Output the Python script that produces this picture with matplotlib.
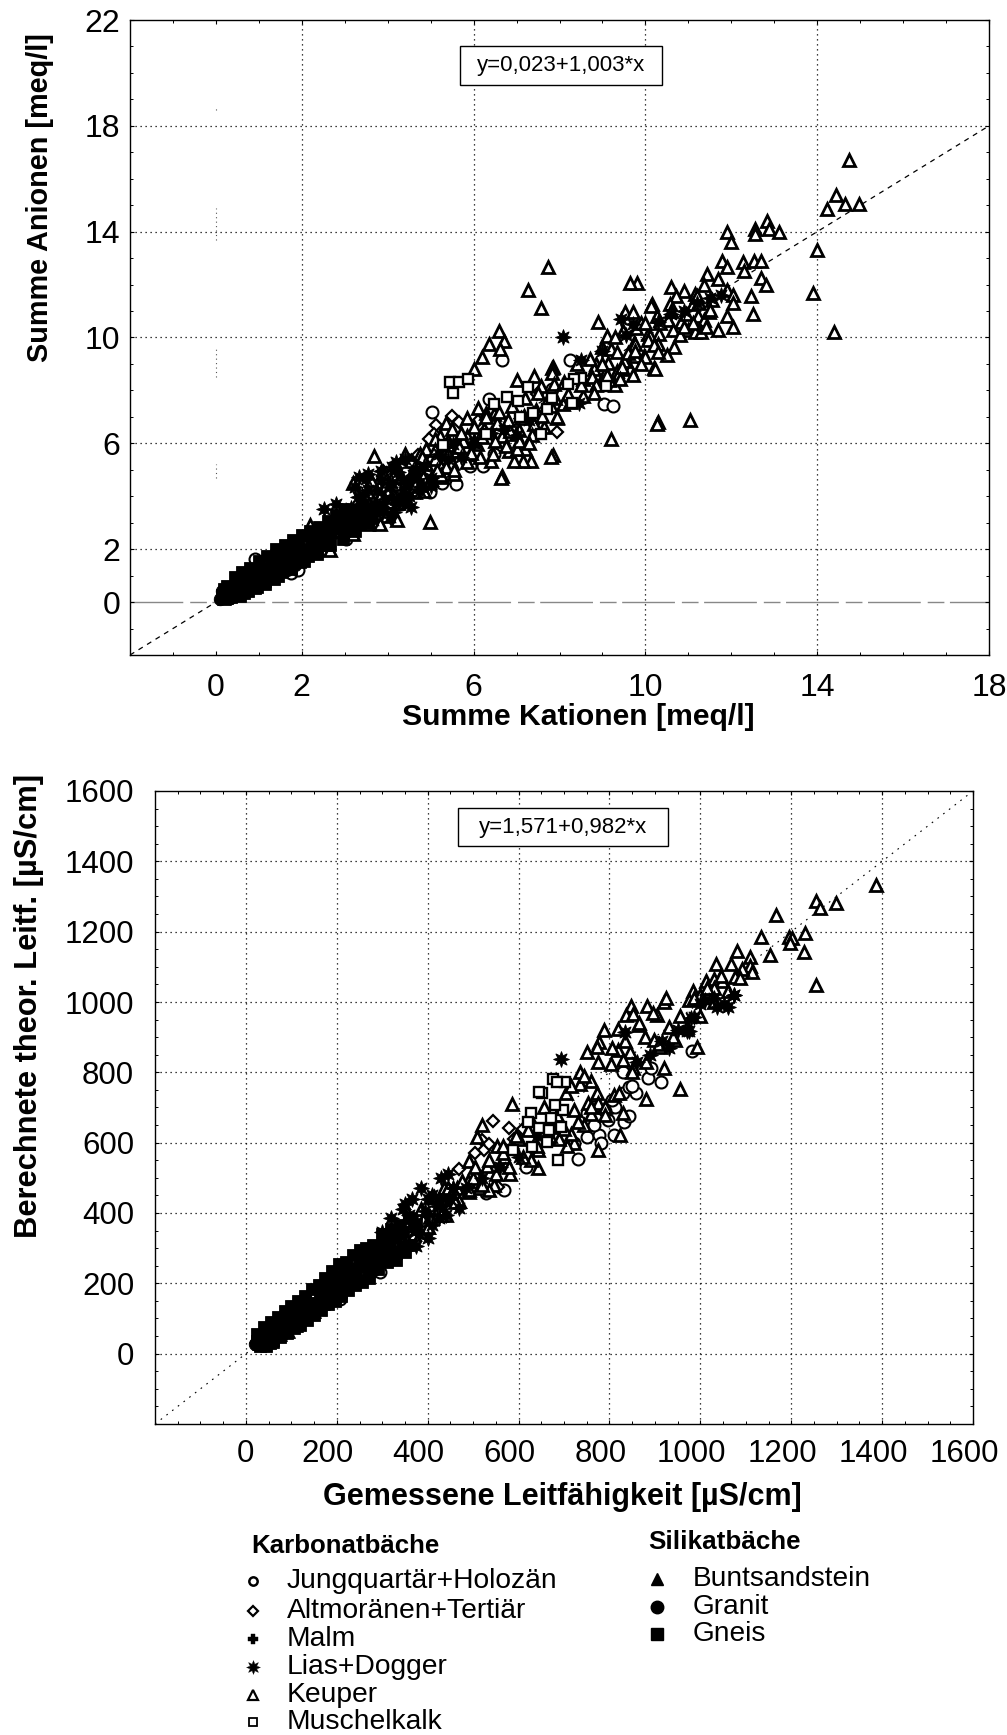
import matplotlib
matplotlib.use("Agg")
import matplotlib.pyplot as plt
from matplotlib.ticker import MultipleLocator
from matplotlib.lines import Line2D
from matplotlib.transforms import ScaledTranslation

W, H = 1007, 1735
plt.rcParams['font.family'] = ['Liberation Sans', 'DejaVu Sans']

SERIES = ["Jungquartär+Holozän", "Altmoränen+Tertiär", "Malm", "Lias+Dogger", "Keuper", "Muschelkalk"]
SILIKAT = ["Buntsandstein", "Granit", "Gneis"]
TITLE_K = "Karbonatbäche"
TITLE_S = "Silikatbäche"

# ---------- top panel: Kationen (x) / Anionen (y) ----------
top_keuper_x = [14.74,14.43,14.22,14.65,14.98,14.0,13.9,14.4,12.83,12.87,13.1,12.55,12.55,11.9,12.0,11.78,11.9,12.27,12.54,12.7,12.3,11.7,12.7,12.8,12.45,12.5,12.05,11.7,11.43,11.37,11.9,12.05,12.05,11.9,10.6,10.9,11.15,10.72,11.1,10.57,10.15,10.28,10.52,10.83,11.22,11.37,11.48,10.99,11.15,11.3,10.32,10.05,9.78,9.52,9.8,9.65,8.9,9.1,8.98,9.2,9.35,8.85,9.13,9.35,9.62,9.73,9.96,10.2,10.67,10.3,10.29,11.03,9.2,7.73,7.27,7.57,7.84,7.84,6.67,6.6,6.35,6.7,6.62,6.2,6.02,7.0,7.4,7.83,7.83,6.1,5.84,5.36,7.94,7.8,6.64,7.33,7.14,6.94,7.2,6.82,7.0,10.23,10.28,8.8,9.05,9.36,9.63,9.5,9.75,9.75,10.0,9.48,9.7,9.9,10.14,10.1,8.55,8.75,9.0,9.3,6.47,6.3,6.66,6.98,5.92,5.5,5.26,5.7,5.5,5.84,5.22,4.98,4.83,5.22,6.08,6.4,7.56,7.4,7.17,7.56,7.87,8.07,6.0,6.25,6.55,6.85,7.1,7.45,7.7,3.67,4.99,2.19,2.65,4.22,3.97,3.54,3.09,3.81,3.54,3.7,4.0,4.12,3.81,3.93,4.22,3.93,4.12,4.32,4.63,4.36,4.43,4.7,4.82,5.0,5.09,5.25,5.26,3.19,2.83,5.45,5.6,5.75,4.55,4.75,4.9,3.35,3.55,3.2,4.4,4.9,5.1,5.35,5.55,
                3.4,3.6,3.75,3.9,4.05,4.2,4.35,4.5,4.65,4.8,4.95,5.1,5.25,5.4,5.55,5.7,5.85,6.0,6.15,6.3,6.45,6.6,6.75,6.9,7.05,7.2,7.35,7.5,7.65,7.8,7.95,8.1,8.25,8.4,8.55,8.7,8.85,9.0,9.15,9.3,9.45,9.6,9.75,9.9,10.05,10.2,10.35,10.5,10.65,10.8,10.95,11.1,11.25,11.4,11.55,
                3.5,3.7,4.0,4.25,4.6,4.85,5.15,5.4,5.65,5.95,6.2,6.5,6.8,7.05,7.3,7.6,7.9,8.2,8.5,8.8,9.1,9.4,9.7,10.0,10.3,10.6,10.9,11.2,11.5]
top_keuper_y = [16.7,15.38,14.84,15.06,15.06,13.3,11.7,10.2,14.4,14.1,14.0,14.1,13.9,14.0,13.6,12.9,12.65,12.85,12.9,12.9,12.5,12.2,12.25,12.0,11.55,10.9,10.4,10.3,12.4,12.0,11.8,11.6,11.3,10.8,11.9,11.75,11.65,11.55,11.25,11.25,11.25,10.8,10.65,10.6,10.8,10.65,10.95,10.3,10.2,10.2,10.15,10.15,10.35,10.95,12.05,12.05,10.6,10.05,9.65,9.55,9.45,9.0,9.05,8.75,8.87,9.8,9.3,8.85,9.65,9.75,6.8,6.9,6.15,12.65,11.8,11.1,8.9,5.57,4.75,10.25,9.75,9.87,9.55,9.27,8.8,8.4,8.55,8.85,8.65,7.35,6.97,6.75,6.95,5.5,4.7,5.33,5.33,5.33,5.77,5.7,5.77,8.8,6.72,8.8,8.67,8.6,8.8,9.1,9.75,9.3,9.25,10.25,10.95,10.55,11.2,10.05,8.45,8.5,8.35,8.2,7.1,7.15,6.28,6.34,5.58,5.27,5.33,6.2,6.53,6.28,6.28,5.46,4.76,4.83,5.96,5.33,6.72,6.72,7.03,8.17,8.23,7.48,6.1,6.55,6.75,6.45,6.95,7.25,7.6,5.53,3.04,2.92,1.95,3.12,3.25,3.42,3.17,2.96,2.96,3.58,3.65,4.09,4.0,4.35,4.47,4.72,4.75,4.72,4.15,3.9,4.28,5.09,4.72,4.65,5.4,5.09,4.72,2.58,2.7,5.95,5.7,6.1,5.35,5.6,5.2,3.75,4.15,4.5,5.6,5.8,6.15,5.1,4.85,
                3.3,4.6,3.6,4.9,3.8,5.1,4.1,4.4,4.5,5.5,4.55,5.75,4.8,6.1,5.0,6.4,5.3,6.6,5.5,7.0,5.6,7.2,5.9,7.4,6.1,7.7,6.3,7.9,6.6,7.4,7.0,8.3,7.55,9.0,7.8,9.2,8.2,9.0,8.4,10.0,8.9,9.4,9.5,9.0,9.9,9.7,10.55,9.35,10.3,10.1,10.9,10.55,11.3,10.4,11.4,
                3.9,3.35,4.25,3.75,4.95,4.2,5.0,5.6,5.85,5.65,6.25,6.1,6.9,6.5,6.0,7.05,7.7,7.85,8.2,7.9,8.6,8.45,8.6,10.55,9.45,11.0,10.4,11.55,11.05]

top_muschel_x = [5.53,5.45,5.65,5.87,7.27,6.78,7.03,6.47,7.82,7.7,8.29,7.39,7.08,6.29,7.56,5.28,8.5,8.34,8.19,9.09]
top_muschel_y = [7.92,8.3,8.3,8.42,8.13,7.75,7.6,7.48,7.73,7.29,7.51,7.14,7.0,6.37,6.37,5.92,8.46,8.42,8.23,8.17]

top_jung_x = [5.04,6.35,6.67,8.25,9.03,9.24,5.6,6.23,5.92,6.47,5.26,4.98,4.9,7.83,0.92,1.76,1.91,3.04,2.21,4.98,4.43,3.4,3.8,4.3]
top_jung_y = [7.2,7.67,9.14,9.15,7.5,7.41,4.47,5.14,5.14,5.58,4.51,4.26,5.46,8.04,1.64,1.11,1.23,2.38,2.58,4.15,5.4,3.0,3.3,3.7]

top_alt_x = [5.5,5.12,5.65,5.08,4.95,7.94,7.48,4.55,4.7,3.9,2.9,6.1,1.4,1.1]
top_alt_y = [7.03,6.69,6.81,6.34,6.15,6.43,7.85,5.2,5.55,4.95,3.1,6.85,1.55,1.25]

top_lias_x = [8.09,8.5,9.44,8.46,9.0,5.53,2.51,2.79,3.33,3.54,4.09,4.2,4.4,3.31,3.93,4.55,3.55,3.7,3.45,3.2,3.1,3.65,3.85,4.1,4.3,4.6,4.85,3.0,2.9,3.35,3.9,4.15,4.35,5.0,5.2,5.4,5.7,6.0,6.4,6.7,7.0,7.3,9.55,9.7,10.3,10.6,10.9,11.2,11.5,11.75,
              2.6,2.75,3.0,3.15,3.3,3.45,3.6,3.75,3.9,4.05,4.2,4.35,4.5,4.65,4.8,2.7,2.95,3.2,3.4,3.6,3.85,4.05,4.25,4.5,4.75,5.0,3.05,3.25,3.5,3.75]
top_lias_y = [10.0,9.15,10.7,7.54,9.5,5.96,3.52,3.71,4.72,4.84,5.09,5.28,5.4,3.96,3.9,3.58,4.25,3.7,3.4,3.5,3.1,3.1,4.6,4.5,4.0,4.8,5.15,2.95,2.75,3.0,3.45,3.4,3.8,4.4,5.6,5.4,5.5,6.0,6.4,6.5,6.3,6.9,10.1,10.5,10.6,10.9,11.0,11.3,11.5,11.6,
              2.45,3.0,2.95,3.55,3.2,3.75,3.3,4.2,3.55,4.35,3.75,4.6,4.0,5.0,4.35,2.6,3.3,2.9,4.05,3.55,4.95,3.2,4.9,4.55,4.2,4.7,3.35,4.35,4.65,3.45]

top_malm_x = [0.3,0.55,0.8,1.05,1.3,1.55,1.8,2.05,2.3,2.55,2.75,3.0,3.25,3.5,3.8,4.1,4.4,4.7]
top_malm_y = [0.35,0.5,0.85,1.0,1.45,1.4,1.85,1.9,2.25,2.3,2.75,2.7,3.1,3.3,3.6,3.9,4.3,4.6]

top_bunt_x = [0.12,0.18,0.25,0.3,0.36,0.42,0.48,0.55,0.62,0.7,0.78,0.85,0.93,1.0,1.08,1.16,1.24,1.32,1.4,1.5,1.6,1.7,1.8,1.9,2.0,2.1,2.2,2.3,2.42,2.55]
top_bunt_y = [0.35,0.15,0.55,0.28,0.7,0.35,0.78,0.45,0.92,0.6,1.02,0.7,1.15,0.82,1.3,0.95,1.45,1.1,1.6,1.25,1.8,1.45,1.98,1.62,2.1,1.8,2.3,2.0,2.45,2.2]

top_granit_x = [0.1,0.15,0.2,0.28,0.33,0.4,0.46,0.52,0.6,0.66,0.74,0.82,0.9,0.97,1.05,1.14,1.22,1.35,1.45,1.55,1.65,1.75,1.85,1.95,2.05]
top_granit_y = [0.12,0.42,0.2,0.5,0.16,0.6,0.25,0.62,0.4,0.8,0.55,0.88,0.65,1.0,0.75,1.15,0.95,1.3,1.05,1.55,1.2,1.7,1.4,1.85,1.6]

top_gneis_x = [0.14,0.22,0.27,0.34,0.38,0.44,0.5,0.58,0.64,0.72,0.8,0.88,0.95,1.03,1.12,1.2,1.28,1.38,1.48,1.58,1.68,1.78,1.88,1.98,2.12,2.25,2.38,2.5,2.65,2.8,
               0.2,0.35,0.5,0.65,0.75,0.9,1.05,1.15,1.3,1.45,1.6,1.75,1.9,2.05,2.2,2.35,2.5,2.65,2.8,2.95,3.1,3.25,3.4,3.55,
               0.25,0.45,0.6,0.8,1.0,1.2,1.4,1.6,1.8,2.0,2.2,2.4,2.6,2.8,3.0,0.55,0.75,0.95,1.15,1.35,1.55,1.75,1.95,2.15,2.35]
top_gneis_y = [0.25,0.3,0.14,0.42,0.55,0.48,0.3,0.7,0.5,0.72,0.75,0.95,0.85,1.1,0.98,1.25,1.2,1.42,1.35,1.6,1.55,1.8,1.75,2.0,1.95,2.15,2.25,2.45,2.6,2.85,
               0.5,0.2,0.85,0.35,0.95,0.55,1.25,0.78,1.6,0.98,1.9,1.25,2.2,1.55,2.5,1.8,2.7,2.15,3.0,2.4,3.25,2.7,3.6,3.0,
               0.62,0.95,1.15,1.3,1.55,1.75,2.0,2.15,2.35,2.55,2.7,2.85,3.05,3.3,3.5,0.22,0.4,0.58,0.7,0.88,1.12,1.3,1.5,1.75,1.95]

# ---------- bottom panel: gemessene (x) / berechnete (y) ----------
bot_keuper_x = [1387,1255,1263,1299,1167,1134,1195,1202,1198,1230,1228,1153,1255,1081,1035,1068,1110,1110,1114,1092,1077,1088,1044,1012,1030,1047,983,1000,1030,1060,975,848,882,919,837,852,904,930,789,818,778,751,773,818,845,803,829,851,919,955,880,878,897,912,945,866,993,586,492,642,774,824,722,830,735,705,772,753,775,722,760,670,642,627,582,567,552,519,508,545,489,512,534,706,688,715,745,790,810,760,735,620,600,565,530,500,465,450,420,400,440,470,490,410,380,345,320,300,330,360,390,430,350,375,405,425,455,435,250,265,200,205,225,
                330,350,370,385,400,415,430,445,460,475,490,505,520,535,550,565,580,595,610,625,640,655,670,685,700,715,730,745,760,775,790,805,820,835,850,865,880,895,910,925,940,955,970,985,1000,1015,1030,1045]
bot_keuper_y = [1333,1286,1267,1281,1248,1184,1186,1181,1167,1195,1143,1133,1048,1146,1108,1109,1128,1102,1086,1095,1071,1069,1069,1060,1065,1060,1030,1020,1040,1030,1005,990,990,1000,962,967,962,930,919,924,886,858,872,863,858,825,834,811,811,754,723,900,891,872,891,935,872,710,548,527,579,622,598,683,768,740,740,712,712,692,682,645,578,552,512,560,590,650,615,480,490,470,465,590,610,625,650,700,735,775,800,635,610,570,535,500,470,440,400,360,395,435,460,445,385,350,320,290,320,345,380,410,335,365,390,415,440,470,225,240,250,215,215,
                305,375,340,410,360,445,395,470,430,490,465,530,480,550,510,590,530,620,560,670,590,700,620,680,640,760,660,790,700,830,680,870,740,890,800,940,830,970,880,1010,900,960,930,1010,960,1040,1000,1075]

bot_muschel_x = [675,703,684,651,644,698,681,628,621,671,693,644,666,630,587,662,687]
bot_muschel_y = [782,773,773,742,745,694,707,683,660,669,645,643,636,589,579,603,551]

bot_jung_x = [731,751,777,765,796,831,844,813,829,859,885,913,891,843,781,811,722,750,569,529,617,982,295,208,245,225,268,805,790,765,830,850]
bot_jung_y = [554,617,622,650,664,660,676,702,740,742,785,773,811,757,598,622,598,683,466,456,532,862,233,155,205,190,222,720,690,700,800,760]

bot_alt_x = [543,579,520,524,554,470,590,610,440,535,505]
bot_alt_y = [662,643,608,579,475,525,610,640,430,595,570]

bot_lias_x = [694,834,971,979,1074,1052,1037,1000,985,974,320,345,365,385,360,410,430,445,340,320,300,310,375,400,420,455,485,520,560,600,640,1010,1030,1060,1075,950,930,890,915,860,
              290,305,320,335,350,365,380,395,410,425,440,455,300,325,350,375,400,425,450,470]
bot_lias_y = [837,915,917,954,1019,995,986,995,956,918,385,410,440,470,395,450,500,510,305,290,320,285,350,330,420,470,470,500,530,560,620,1005,1010,985,1020,920,870,850,890,830,
              270,310,275,345,310,375,340,405,365,435,395,470,345,330,425,305,440,385,440,415]

bot_malm_x = [40,70,100,130,160,190,220,250,280,310,340,370,400,430]
bot_malm_y = [45,75,95,130,155,195,210,255,270,320,330,375,395,440]

bot_bunt_x = [22,28,34,42,50,58,66,75,84,92,100,110,120,130,140,150,160,170,182,194,206,218,230,245,260,275,290]
bot_bunt_y = [50,30,60,35,72,42,85,55,98,65,112,82,130,100,150,120,170,145,200,165,225,190,240,220,265,245,290]

bot_granit_x = [20,26,32,38,46,54,62,70,79,88,96,105,115,125,135,145,155,165,176,188,200,212,224,238]
bot_granit_y = [28,40,25,50,40,62,48,72,68,88,82,105,92,125,115,140,130,175,150,190,180,215,205,235]

bot_gneis_x = [24,30,36,44,52,60,68,77,86,94,103,112,122,132,142,152,162,172,185,198,210,222,236,250,265,280,300,
               30,45,60,75,90,105,120,135,150,165,180,195,210,225,240,255,270,285,300,315,330,345,360,375,
               25,40,55,70,85,100,115,130,145,160,175,190,205,220,235,250,265,280,300,320,340,360,
               45,60,75,90,105,120,135,150,165,180,195,210,225,240,255,270,290,310,330,350]
bot_gneis_y = [35,22,42,55,30,52,65,60,78,75,95,100,112,120,132,135,155,160,175,205,205,228,220,250,250,275,285,
               45,65,40,85,70,125,95,145,120,165,150,215,175,245,210,270,235,300,265,320,285,345,310,370,
               55,75,90,105,120,135,150,165,185,195,215,235,255,260,280,295,300,310,340,355,365,385,
               22,32,48,60,72,82,95,110,125,140,150,165,180,195,205,215,240,262,265,290]

# ---------- fit labels and axis texts ----------
fit_top = "y=0,023+1,003*x"
fit_bot = "y=1,571+0,982*x"
top_xlabel = "Summe Kationen [meq/l]"
top_ylabel = "Summe Anionen [meq/l]"
bot_xlabel = "Gemessene Leitfähigkeit [µS/cm]"
bot_ylabel = "Berechnete theor. Leitf. [µS/cm]"

top_ticks_x = [0, 2, 6, 10, 14, 18]
top_ticks_y = [0, 2, 6, 10, 14, 18, 22]
bot_ticks = [0, 200, 400, 600, 800, 1000, 1200, 1400, 1600]

fig = plt.figure(figsize=(W / 100, H / 100), dpi=100, facecolor='white')

def make_axes(l, t, r, b):
    return fig.add_axes([l / W, 1 - b / H, (r - l) / W, (b - t) / H])

def fx(px):
    return px / W

def fy(py):
    return 1 - py / H

OPEN = dict(mec='black', mfc='white', mew=2.0, ls='none')
FILL = dict(mec='black', mfc='black', mew=0.6, ls='none')

def draw(ax, jung, alt, malm, lias, bunt, granit, gneis, keuper, muschel):
    ax.plot(*jung, marker='o', ms=8.6, zorder=3, **dict(OPEN, mew=1.5))
    ax.plot(*alt, marker='D', ms=6.6, zorder=3.1, **dict(OPEN, mew=1.6))
    ax.plot(*keuper, marker='^', ms=8.4, zorder=3.2, **OPEN)
    ax.plot(*malm, marker='P', ms=9, zorder=3.3, **FILL)
    ax.plot(*bunt, marker='^', ms=9.5, zorder=3.3, **FILL)
    ax.plot(*granit, marker='o', ms=9, zorder=3.3, **FILL)
    ax.plot(*gneis, marker='s', ms=8.6, zorder=3.3, **FILL)
    ax.plot(*lias, marker=(8, 1, 0), ms=11.5, zorder=3.4, **FILL)
    ax.plot(*muschel, marker='s', ms=7.8, zorder=3.6, **dict(OPEN, mew=1.7))

def dress(ax, xt, yt, xminor, yminor, padx, pady, size):
    ax.set_xticks(xt)
    ax.set_yticks(yt)
    ax.xaxis.set_minor_locator(MultipleLocator(xminor))
    ax.yaxis.set_minor_locator(MultipleLocator(yminor))
    ax.tick_params(which='major', direction='in', length=3, width=0.8, top=True, right=True, labelsize=size)
    ax.tick_params(which='minor', direction='in', length=2, width=0.7, top=True, right=True)
    ax.tick_params(axis='x', which='major', pad=padx)
    ax.tick_params(axis='y', which='major', pad=pady)
    for s in ax.spines.values():
        s.set_linewidth(1.0)
        s.set_zorder(5)

# ---- top ----
ax1 = make_axes(130, 20, 989, 655)
ax1.set_xlim(-2, 18)
ax1.set_ylim(-2, 22)
dress(ax1, top_ticks_x, top_ticks_y, 1, 1, 13, 7, 23)
DOT = (0, (1, 3))
for v in top_ticks_x[1:-1]:
    ax1.axvline(v, color='black', lw=0.9, ls=DOT, zorder=1)
for v in top_ticks_y[1:-1]:
    ax1.axhline(v, color='black', lw=0.9, ls=DOT, zorder=1)
ax1.axhline(0, color='#888888', lw=1.0, ls=(0, (38, 5, 12, 4)), zorder=1)
ax1.plot([-2, 18], [-2, 18], color='black', lw=0.9, ls=(0, (4, 4)), zorder=2)
ax1.vlines([0, 0, 0, 0], [18.6, 13.7, 8.5, 4.7], [18.7, 14.9, 9.6, 5.2], color='#555555', lw=0.8, ls=DOT, zorder=1)
draw(ax1, (top_jung_x, top_jung_y), (top_alt_x, top_alt_y), (top_malm_x, top_malm_y),
     (top_lias_x, top_lias_y), (top_bunt_x, top_bunt_y), (top_granit_x, top_granit_y),
     (top_gneis_x, top_gneis_y), (top_keuper_x, top_keuper_y), (top_muschel_x, top_muschel_y))

# ---- bottom ----
ax2 = make_axes(155, 791, 973, 1424)
ax2.set_xlim(-200, 1600)
ax2.set_ylim(-200, 1600)
dress(ax2, bot_ticks, bot_ticks, 50, 50, 11, 15, 22.5)
for lab in ax2.get_xticklabels()[1:]:
    lab.set_transform(lab.get_transform() + ScaledTranslation(-9 / 100, 0, fig.dpi_scale_trans))
for v in bot_ticks[:-1]:
    ax2.axvline(v, color='black', lw=0.9, ls=DOT, zorder=1)
    ax2.axhline(v, color='black', lw=0.9, ls=DOT, zorder=1)
ax2.plot([-200, 1600], [-200, 1600], color='black', lw=0.8, ls=(0, (1.5, 5)), zorder=2)
draw(ax2, (bot_jung_x, bot_jung_y), (bot_alt_x, bot_alt_y), (bot_malm_x, bot_malm_y),
     (bot_lias_x, bot_lias_y), (bot_bunt_x, bot_bunt_y), (bot_granit_x, bot_granit_y),
     (bot_gneis_x, bot_gneis_y), (bot_keuper_x, bot_keuper_y), (bot_muschel_x, bot_muschel_y))

# ---- fit boxes ----
def fit_box(txt, l, t, r, b):
    box = plt.Rectangle((l / W, 1 - b / H), (r - l) / W, (b - t) / H, transform=fig.transFigure,
                        fc='white', ec='black', lw=1.0, zorder=10)
    fig.add_artist(box)
    fig.text(fx((l + r) / 2), fy((t + b) / 2), txt, ha='center', va='center', fontsize=16, zorder=11)

fit_box(fit_top, 460, 46, 662, 85)
fit_box(fit_bot, 458, 808, 668, 846)

# ---- axis titles ----
fig.text(fx(578), fy(717), top_xlabel, ha='center', va='center', fontsize=21.7, fontweight='bold')
fig.text(fx(40), fy(198), top_ylabel, rotation=90, ha='center', va='center', fontsize=20.8, fontweight='bold')
fig.text(fx(562), fy(1497), bot_xlabel, ha='center', va='center', fontsize=22, fontweight='bold')
fig.text(fx(29), fy(1006), bot_ylabel, rotation=90, ha='center', va='center', fontsize=22.2, fontweight='bold')

# ---- legend ----
fig.text(fx(251), fy(1546), TITLE_K, ha='left', va='center', fontsize=18.6, fontweight='bold')
fig.text(fx(648), fy(1542), TITLE_S, ha='left', va='center', fontsize=18.7, fontweight='bold')
rows_k = [1581, 1611, 1639, 1667, 1695, 1722]
style_k = [dict(marker='o', mfc='white', mew=1.8, ms=6), dict(marker='D', mfc='white', mew=1.6, ms=5),
           dict(marker='P', mfc='black', mew=0.3, ms=7.5), dict(marker=(8, 1, 0), mfc='black', mew=0.3, ms=10),
           dict(marker='^', mfc='white', mew=1.6, ms=6.5), dict(marker='s', mfc='white', mew=1.3, ms=6)]
for name, py, st in zip(SERIES, rows_k, style_k):
    fig.add_artist(Line2D([fx(253)], [fy(py)], transform=fig.transFigure, mec='black', ls='none', **st))
    fig.text(fx(287), fy(py), name, ha='left', va='center', fontsize=20.3)
rows_s = [1579, 1607, 1634]
style_s = [dict(marker='^', ms=9), dict(marker='o', ms=9), dict(marker='s', ms=8)]
for name, py, st in zip(SILIKAT, rows_s, style_s):
    fig.add_artist(Line2D([fx(657)], [fy(py)], transform=fig.transFigure, mec='black', mfc='black', ls='none', **st))
    fig.text(fx(693), fy(py), name, ha='left', va='center', fontsize=20.2)

fig.savefig("out.png", dpi=100, facecolor='white')
